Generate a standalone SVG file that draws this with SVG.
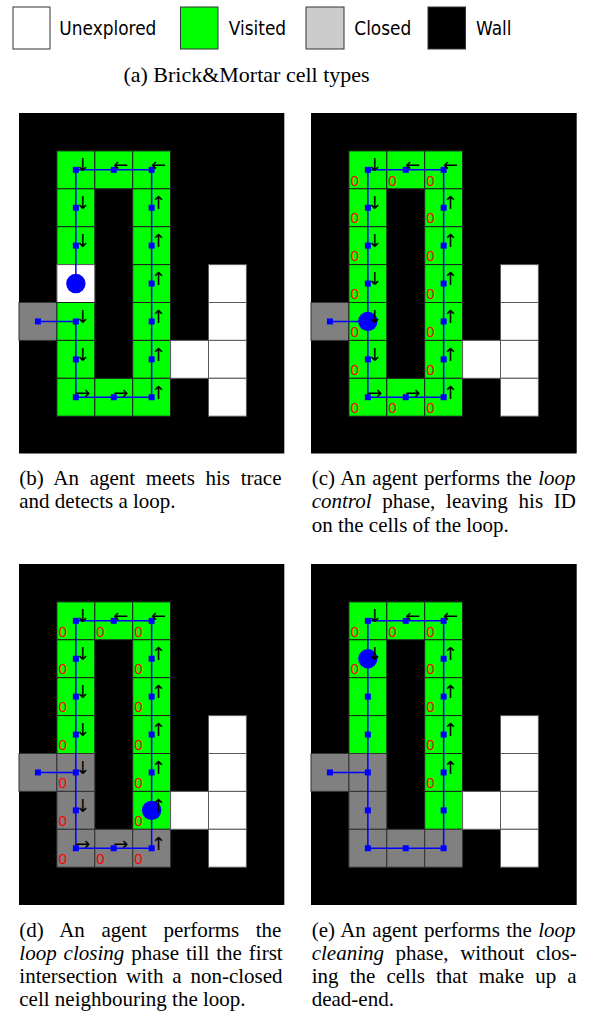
<svg xmlns="http://www.w3.org/2000/svg" xmlns:xlink="http://www.w3.org/1999/xlink" width="594" height="1013" viewBox="0 0 594 1013">
<style>
.bg{fill:#000}
.g{fill:#00ff00;stroke:#1e1e1e;stroke-width:1}
.w{fill:#fff;stroke:#5a5a5a;stroke-width:1}
.c{fill:#808080;stroke:#333;stroke-width:1}
.path{fill:none;stroke:#0000ff;stroke-width:1.5}
.ag{fill:#0000ff}
.ar{font-family:"DejaVu Sans",sans-serif;font-size:18px;fill:#000;text-anchor:middle;dominant-baseline:central}
.z{font-family:"Liberation Sans","DejaVu Sans",sans-serif;font-size:15px;fill:#ff0000}
.cap{font-family:"Liberation Serif","Times New Roman",serif;font-size:21px;fill:#000}
.it{font-style:italic}
.lg{font-family:"DejaVu Sans",sans-serif;font-size:17px;fill:#000}
.lb{stroke:#333;stroke-width:1}
</style>
<defs>
<rect id="cell" width="37.9" height="37.9"/>
<rect id="m" x="-3" y="-3" width="6" height="6" fill="#0000ff"/>
</defs>

<g id="legend">
<rect class="lb" x="13" y="7" width="37" height="42" fill="#fff"/>
<text class="lg" transform="translate(59.3,34.5) scale(1,1.15)">Unexplored</text>
<rect class="lb" x="180.5" y="7" width="37.5" height="42" fill="#00ff00"/>
<text class="lg" transform="translate(228.7,34.5) scale(1,1.15)">Visited</text>
<rect class="lb" x="306" y="7" width="38" height="42" fill="#cccccc"/>
<text class="lg" transform="translate(354.3,34.5) scale(1,1.15)">Closed</text>
<rect class="lb" x="428" y="7" width="37.5" height="42" fill="#000"/>
<text class="lg" transform="translate(476,34.5) scale(1,1.15)">Wall</text>
<text class="cap" x="246.5" y="82" text-anchor="middle" style="font-size:22px">(a) Brick&amp;Mortar cell types</text>
</g>

<!-- Panel B -->
<g id="panel-b" transform="translate(19,113)">
<rect class="bg" width="265.3" height="340.5"/>
<g id="cells-b">
<use href="#cell" class="g" x="37.9" y="37.9"/><use href="#cell" class="g" x="75.8" y="37.9"/><use href="#cell" class="g" x="113.7" y="37.9"/>
<use href="#cell" class="g" x="37.9" y="75.8"/><use href="#cell" class="g" x="113.7" y="75.8"/>
<use href="#cell" class="g" x="37.9" y="113.7"/><use href="#cell" class="g" x="113.7" y="113.7"/>
<use href="#cell" class="w" x="37.9" y="151.6"/><use href="#cell" class="g" x="113.7" y="151.6"/>
<use href="#cell" class="c" x="0" y="189.5"/><use href="#cell" class="g" x="37.9" y="189.5"/><use href="#cell" class="g" x="113.7" y="189.5"/>
<use href="#cell" class="g" x="37.9" y="227.4"/><use href="#cell" class="g" x="113.7" y="227.4"/>
<use href="#cell" class="g" x="37.9" y="265.3"/><use href="#cell" class="g" x="75.8" y="265.3"/><use href="#cell" class="g" x="113.7" y="265.3"/>
<use href="#cell" class="w" x="189.5" y="151.6"/><use href="#cell" class="w" x="189.5" y="189.5"/><use href="#cell" class="w" x="151.6" y="227.4"/><use href="#cell" class="w" x="189.5" y="227.4"/><use href="#cell" class="w" x="189.5" y="265.3"/>
</g>
<g id="connectors-b">
<path class="path" d="M18.95 208.45H56.85V284.25H132.65V56.85H56.85V170.55"/>
<use href="#m" x="18.95" y="208.45"/>
<use href="#m" x="56.85" y="56.85"/><use href="#m" x="56.85" y="94.75"/><use href="#m" x="56.85" y="132.65"/><use href="#m" x="56.85" y="208.45"/><use href="#m" x="56.85" y="246.35"/><use href="#m" x="56.85" y="284.25"/>
<use href="#m" x="94.75" y="56.85"/><use href="#m" x="94.75" y="284.25"/>
<use href="#m" x="132.65" y="56.85"/><use href="#m" x="132.65" y="94.75"/><use href="#m" x="132.65" y="132.65"/><use href="#m" x="132.65" y="170.55"/><use href="#m" x="132.65" y="208.45"/><use href="#m" x="132.65" y="246.35"/><use href="#m" x="132.65" y="284.25"/>
</g>
<circle id="agent-b" class="ag" cx="56.85" cy="170.55" r="9.7"/>
<g id="arrows-b">
<text class="ar" x="63.85" y="51.85">↓</text><text class="ar" x="101.75" y="51.85">←</text><text class="ar" x="139.65" y="51.85">←</text>
<text class="ar" x="63.85" y="89.75">↓</text><text class="ar" x="63.85" y="127.65">↓</text><text class="ar" x="63.85" y="203.45">↓</text><text class="ar" x="63.85" y="241.35">↓</text>
<text class="ar" x="63.85" y="279.25">→</text><text class="ar" x="101.75" y="279.25">→</text>
<text class="ar" x="139.65" y="89.75">↑</text><text class="ar" x="139.65" y="127.65">↑</text><text class="ar" x="139.65" y="165.55">↑</text><text class="ar" x="139.65" y="203.45">↑</text><text class="ar" x="139.65" y="241.35">↑</text><text class="ar" x="139.65" y="279.25">↑</text>
</g>
</g>

<!-- Panel C -->
<g id="panel-c" transform="translate(311,113)">
<rect class="bg" width="265.7" height="340.5"/>
<g id="cells-c">
<use href="#cell" class="g" x="37.9" y="37.9"/><use href="#cell" class="g" x="75.8" y="37.9"/><use href="#cell" class="g" x="113.7" y="37.9"/>
<use href="#cell" class="g" x="37.9" y="75.8"/><use href="#cell" class="g" x="113.7" y="75.8"/>
<use href="#cell" class="g" x="37.9" y="113.7"/><use href="#cell" class="g" x="113.7" y="113.7"/>
<use href="#cell" class="g" x="37.9" y="151.6"/><use href="#cell" class="g" x="113.7" y="151.6"/>
<use href="#cell" class="c" x="0" y="189.5"/><use href="#cell" class="g" x="37.9" y="189.5"/><use href="#cell" class="g" x="113.7" y="189.5"/>
<use href="#cell" class="g" x="37.9" y="227.4"/><use href="#cell" class="g" x="113.7" y="227.4"/>
<use href="#cell" class="g" x="37.9" y="265.3"/><use href="#cell" class="g" x="75.8" y="265.3"/><use href="#cell" class="g" x="113.7" y="265.3"/>
<use href="#cell" class="w" x="189.5" y="151.6"/><use href="#cell" class="w" x="189.5" y="189.5"/><use href="#cell" class="w" x="151.6" y="227.4"/><use href="#cell" class="w" x="189.5" y="227.4"/><use href="#cell" class="w" x="189.5" y="265.3"/>
</g>
<g id="ids-c">
<text class="z" x="39.4" y="72.5">0</text><text class="z" x="77.3" y="72.5">0</text><text class="z" x="115.2" y="72.5">0</text>
<text class="z" x="39.4" y="110.4">0</text><text class="z" x="115.2" y="110.4">0</text>
<text class="z" x="39.4" y="148.3">0</text><text class="z" x="115.2" y="148.3">0</text>
<text class="z" x="39.4" y="186.2">0</text><text class="z" x="115.2" y="186.2">0</text>
<text class="z" x="39.4" y="224.1">0</text><text class="z" x="115.2" y="224.1">0</text>
<text class="z" x="39.4" y="262">0</text><text class="z" x="115.2" y="262">0</text>
<text class="z" x="39.4" y="299.9">0</text><text class="z" x="77.3" y="299.9">0</text><text class="z" x="115.2" y="299.9">0</text>
</g>
<g id="connectors-c">
<path class="path" d="M18.95 208.45H56.85M56.85 56.85H132.65V284.25H56.85Z"/>
<use href="#m" x="18.95" y="208.45"/>
<use href="#m" x="56.85" y="56.85"/><use href="#m" x="56.85" y="94.75"/><use href="#m" x="56.85" y="132.65"/><use href="#m" x="56.85" y="170.55"/><use href="#m" x="56.85" y="246.35"/><use href="#m" x="56.85" y="284.25"/>
<use href="#m" x="94.75" y="56.85"/><use href="#m" x="94.75" y="284.25"/>
<use href="#m" x="132.65" y="56.85"/><use href="#m" x="132.65" y="94.75"/><use href="#m" x="132.65" y="132.65"/><use href="#m" x="132.65" y="170.55"/><use href="#m" x="132.65" y="208.45"/><use href="#m" x="132.65" y="246.35"/><use href="#m" x="132.65" y="284.25"/>
</g>
<circle id="agent-c" class="ag" cx="56.85" cy="208.45" r="9.7"/>
<g id="arrows-c">
<text class="ar" x="63.85" y="51.85">↓</text><text class="ar" x="101.75" y="51.85">←</text><text class="ar" x="139.65" y="51.85">←</text>
<text class="ar" x="63.85" y="89.75">↓</text><text class="ar" x="63.85" y="127.65">↓</text><text class="ar" x="63.85" y="165.55">↓</text><text class="ar" x="63.85" y="203.45">↓</text><text class="ar" x="63.85" y="241.35">↓</text>
<text class="ar" x="63.85" y="279.25">→</text><text class="ar" x="101.75" y="279.25">→</text>
<text class="ar" x="139.65" y="89.75">↑</text><text class="ar" x="139.65" y="127.65">↑</text><text class="ar" x="139.65" y="165.55">↑</text><text class="ar" x="139.65" y="203.45">↑</text><text class="ar" x="139.65" y="241.35">↑</text><text class="ar" x="139.65" y="279.25">↑</text>
</g>
</g>

<!-- Panel D -->
<g id="panel-d" transform="translate(19,564)">
<rect class="bg" width="265.3" height="341"/>
<g id="cells-d">
<use href="#cell" class="g" x="37.9" y="37.9"/><use href="#cell" class="g" x="75.8" y="37.9"/><use href="#cell" class="g" x="113.7" y="37.9"/>
<use href="#cell" class="g" x="37.9" y="75.8"/><use href="#cell" class="g" x="113.7" y="75.8"/>
<use href="#cell" class="g" x="37.9" y="113.7"/><use href="#cell" class="g" x="113.7" y="113.7"/>
<use href="#cell" class="g" x="37.9" y="151.6"/><use href="#cell" class="g" x="113.7" y="151.6"/>
<use href="#cell" class="c" x="0" y="189.5"/><use href="#cell" class="c" x="37.9" y="189.5"/><use href="#cell" class="g" x="113.7" y="189.5"/>
<use href="#cell" class="c" x="37.9" y="227.4"/><use href="#cell" class="g" x="113.7" y="227.4"/>
<use href="#cell" class="c" x="37.9" y="265.3"/><use href="#cell" class="c" x="75.8" y="265.3"/><use href="#cell" class="c" x="113.7" y="265.3"/>
<use href="#cell" class="w" x="189.5" y="151.6"/><use href="#cell" class="w" x="189.5" y="189.5"/><use href="#cell" class="w" x="151.6" y="227.4"/><use href="#cell" class="w" x="189.5" y="227.4"/><use href="#cell" class="w" x="189.5" y="265.3"/>
</g>
<g id="ids-d">
<text class="z" x="39.4" y="72.5">0</text><text class="z" x="77.3" y="72.5">0</text><text class="z" x="115.2" y="72.5">0</text>
<text class="z" x="39.4" y="110.4">0</text><text class="z" x="115.2" y="110.4">0</text>
<text class="z" x="39.4" y="148.3">0</text><text class="z" x="115.2" y="148.3">0</text>
<text class="z" x="39.4" y="186.2">0</text><text class="z" x="115.2" y="186.2">0</text>
<text class="z" x="39.4" y="224.1">0</text><text class="z" x="115.2" y="224.1">0</text>
<text class="z" x="39.4" y="262">0</text><text class="z" x="115.2" y="262">0</text>
<text class="z" x="39.4" y="299.9">0</text><text class="z" x="77.3" y="299.9">0</text><text class="z" x="115.2" y="299.9">0</text>
</g>
<g id="connectors-d">
<path class="path" d="M18.95 208.45H56.85M56.85 56.85H132.65V284.25H56.85Z"/>
<use href="#m" x="18.95" y="208.45"/>
<use href="#m" x="56.85" y="56.85"/><use href="#m" x="56.85" y="94.75"/><use href="#m" x="56.85" y="132.65"/><use href="#m" x="56.85" y="170.55"/><use href="#m" x="56.85" y="208.45"/><use href="#m" x="56.85" y="246.35"/><use href="#m" x="56.85" y="284.25"/>
<use href="#m" x="94.75" y="56.85"/><use href="#m" x="94.75" y="284.25"/>
<use href="#m" x="132.65" y="56.85"/><use href="#m" x="132.65" y="94.75"/><use href="#m" x="132.65" y="132.65"/><use href="#m" x="132.65" y="170.55"/><use href="#m" x="132.65" y="208.45"/><use href="#m" x="132.65" y="284.25"/>
</g>
<circle id="agent-d" class="ag" cx="132.65" cy="246.35" r="9.7"/>
<g id="arrows-d">
<text class="ar" x="63.85" y="51.85">↓</text><text class="ar" x="101.75" y="51.85">←</text><text class="ar" x="139.65" y="51.85">←</text>
<text class="ar" x="63.85" y="89.75">↓</text><text class="ar" x="63.85" y="127.65">↓</text><text class="ar" x="63.85" y="165.55">↓</text><text class="ar" x="63.85" y="203.45">↓</text><text class="ar" x="63.85" y="241.35">↓</text>
<text class="ar" x="63.85" y="279.25">→</text><text class="ar" x="101.75" y="279.25">→</text>
<text class="ar" x="139.65" y="89.75">↑</text><text class="ar" x="139.65" y="127.65">↑</text><text class="ar" x="139.65" y="165.55">↑</text><text class="ar" x="139.65" y="203.45">↑</text><text class="ar" x="139.65" y="241.35">↑</text><text class="ar" x="139.65" y="279.25">↑</text>
</g>
</g>

<!-- Panel E -->
<g id="panel-e" transform="translate(311,564)">
<rect class="bg" width="265.7" height="341"/>
<g id="cells-e">
<use href="#cell" class="g" x="37.9" y="37.9"/><use href="#cell" class="g" x="75.8" y="37.9"/><use href="#cell" class="g" x="113.7" y="37.9"/>
<use href="#cell" class="g" x="37.9" y="75.8"/><use href="#cell" class="g" x="113.7" y="75.8"/>
<use href="#cell" class="g" x="37.9" y="113.7"/><use href="#cell" class="g" x="113.7" y="113.7"/>
<use href="#cell" class="g" x="37.9" y="151.6"/><use href="#cell" class="g" x="113.7" y="151.6"/>
<use href="#cell" class="c" x="0" y="189.5"/><use href="#cell" class="c" x="37.9" y="189.5"/><use href="#cell" class="g" x="113.7" y="189.5"/>
<use href="#cell" class="c" x="37.9" y="227.4"/><use href="#cell" class="g" x="113.7" y="227.4"/>
<use href="#cell" class="c" x="37.9" y="265.3"/><use href="#cell" class="c" x="75.8" y="265.3"/><use href="#cell" class="c" x="113.7" y="265.3"/>
<use href="#cell" class="w" x="189.5" y="151.6"/><use href="#cell" class="w" x="189.5" y="189.5"/><use href="#cell" class="w" x="151.6" y="227.4"/><use href="#cell" class="w" x="189.5" y="227.4"/><use href="#cell" class="w" x="189.5" y="265.3"/>
</g>
<g id="ids-e">
<text class="z" x="39.4" y="72.5">0</text><text class="z" x="77.3" y="72.5">0</text><text class="z" x="115.2" y="72.5">0</text>
<text class="z" x="39.4" y="110.4">0</text><text class="z" x="115.2" y="110.4">0</text>
<text class="z" x="115.2" y="148.3">0</text>
<text class="z" x="115.2" y="186.2">0</text>
<text class="z" x="115.2" y="224.1">0</text>
</g>
<g id="connectors-e">
<path class="path" d="M18.95 208.45H56.85M56.85 56.85H132.65V284.25H56.85Z"/>
<use href="#m" x="18.95" y="208.45"/>
<use href="#m" x="56.85" y="56.85"/><use href="#m" x="56.85" y="132.65"/><use href="#m" x="56.85" y="170.55"/><use href="#m" x="56.85" y="208.45"/><use href="#m" x="56.85" y="246.35"/><use href="#m" x="56.85" y="284.25"/>
<use href="#m" x="94.75" y="56.85"/><use href="#m" x="94.75" y="284.25"/>
<use href="#m" x="132.65" y="56.85"/><use href="#m" x="132.65" y="94.75"/><use href="#m" x="132.65" y="132.65"/><use href="#m" x="132.65" y="170.55"/><use href="#m" x="132.65" y="208.45"/><use href="#m" x="132.65" y="246.35"/><use href="#m" x="132.65" y="284.25"/>
</g>
<circle id="agent-e" class="ag" cx="56.85" cy="94.75" r="9.7"/>
<g id="arrows-e">
<text class="ar" x="63.85" y="51.85">↓</text><text class="ar" x="101.75" y="51.85">←</text><text class="ar" x="139.65" y="51.85">←</text>
<text class="ar" x="63.85" y="89.75">↓</text>
<text class="ar" x="139.65" y="89.75">↑</text><text class="ar" x="139.65" y="127.65">↑</text><text class="ar" x="139.65" y="165.55">↑</text><text class="ar" x="139.65" y="203.45">↑</text>
</g>
</g>

<g id="captions">
<text class="cap" x="19.3" y="485" word-spacing="5.44">(b) An agent meets his trace</text>
<text class="cap" x="19.3" y="508">and detects a loop.</text>

<text class="cap" x="311.7" y="485" word-spacing="1.1">(c) An agent performs the <tspan class="it">loop</tspan></text>
<text class="cap" x="311.7" y="508" word-spacing="5.45"><tspan class="it">control</tspan> phase, leaving his ID</text>
<text class="cap" x="311.7" y="531.5">on the cells of the loop.</text>

<text class="cap" x="19.3" y="936.5" word-spacing="11.3">(d) An agent performs the</text>
<text class="cap" x="19.3" y="959.5" word-spacing="1.7"><tspan class="it">loop closing</tspan> phase till the first</text>
<text class="cap" x="19.3" y="982.5" word-spacing="3.6">intersection with a non-closed</text>
<text class="cap" x="19.3" y="1005.5">cell neighbouring the loop.</text>

<text class="cap" x="311.7" y="936.5" word-spacing="1.1">(e) An agent performs the <tspan class="it">loop</tspan></text>
<text class="cap" x="311.7" y="959.5" word-spacing="6.3"><tspan class="it">cleaning</tspan> phase, without clos-</text>
<text class="cap" x="311.7" y="982.5" word-spacing="5.87">ing the cells that make up a</text>
<text class="cap" x="311.7" y="1005.5">dead-end.</text>
</g>
</svg>
